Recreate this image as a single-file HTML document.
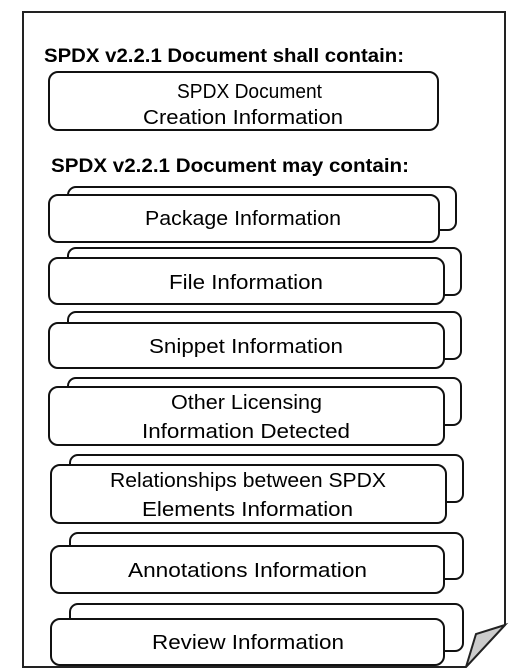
<!DOCTYPE html>
<html><head><meta charset="utf-8"><style>
html,body{margin:0;padding:0;background:#fff;}
svg{display:block;}
text{font-family:"Liberation Sans",sans-serif;font-size:20px;fill:#000;}
.t{font-weight:bold;font-size:19px;}
</style></head><body>
<svg width="529" height="672" viewBox="0 0 529 672" xmlns="http://www.w3.org/2000/svg">
<path d="M23,12 H505 V625 L466,667 H23 Z" fill="#fff" stroke="#222" stroke-width="2"/>
<polygon points="466,667 476,634 505,625" fill="#ccc" stroke="#222" stroke-width="2"/>
<g fill="#fff" stroke="#111" stroke-width="2">
<rect x="49" y="72" width="389" height="58" rx="9"/>
<rect x="68" y="187" width="388" height="43" rx="8"/><rect x="49" y="195" width="390" height="47" rx="9"/>
<rect x="68" y="248" width="393" height="47" rx="8"/><rect x="49" y="258" width="395" height="46" rx="9"/>
<rect x="68" y="312" width="393" height="47" rx="8"/><rect x="49" y="323" width="395" height="45" rx="9"/>
<rect x="68" y="378" width="393" height="47" rx="8"/><rect x="49" y="387" width="395" height="58" rx="9"/>
<rect x="70" y="455" width="393" height="47" rx="8"/><rect x="51" y="465" width="395" height="58" rx="9"/>
<rect x="70" y="533" width="393" height="46" rx="8"/><rect x="51" y="546" width="393" height="47" rx="9"/>
<rect x="70" y="604" width="393" height="47" rx="8"/><rect x="51" y="619" width="393" height="46" rx="9"/>
</g>
<text class="t" x="44" y="62" textLength="360" lengthAdjust="spacingAndGlyphs">SPDX v2.2.1 Document shall contain:</text>
<text class="t" x="51" y="172" textLength="358" lengthAdjust="spacingAndGlyphs">SPDX v2.2.1 Document may contain:</text>
<text x="177" y="98" textLength="145" lengthAdjust="spacingAndGlyphs">SPDX Document</text>
<text x="143" y="124" textLength="200" lengthAdjust="spacingAndGlyphs">Creation Information</text>
<text x="145" y="225" textLength="196" lengthAdjust="spacingAndGlyphs">Package Information</text>
<text x="169" y="289" textLength="154" lengthAdjust="spacingAndGlyphs">File Information</text>
<text x="149" y="353" textLength="194" lengthAdjust="spacingAndGlyphs">Snippet Information</text>
<text x="171" y="409" textLength="151" lengthAdjust="spacingAndGlyphs">Other Licensing</text>
<text x="142" y="438" textLength="208" lengthAdjust="spacingAndGlyphs">Information Detected</text>
<text x="110" y="487" textLength="276" lengthAdjust="spacingAndGlyphs">Relationships between SPDX</text>
<text x="142" y="516" textLength="211" lengthAdjust="spacingAndGlyphs">Elements Information</text>
<text x="128" y="577" textLength="239" lengthAdjust="spacingAndGlyphs">Annotations Information</text>
<text x="152" y="649" textLength="192" lengthAdjust="spacingAndGlyphs">Review Information</text>
</svg>
</body></html>
